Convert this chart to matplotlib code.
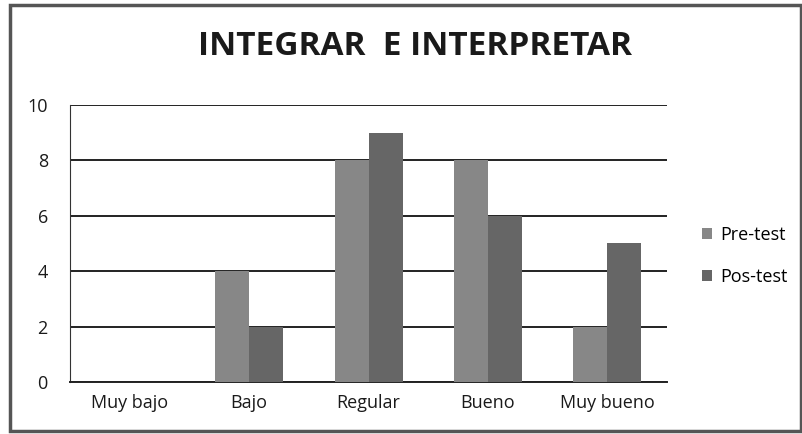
import numpy as np
import matplotlib.pyplot as plt
from matplotlib.patches import Rectangle

plt.rcParams['font.family'] = ['Open Sans', 'DejaVu Sans']

categories = ["Muy bajo", "Bajo", "Regular", "Bueno", "Muy bueno"]
pre_test = [0, 4, 8, 8, 2]
pos_test = [0, 2, 9, 6, 5]
y_ticks = [0, 2, 4, 6, 8, 10]

fig = plt.figure(figsize=(8.03, 4.34), dpi=100)
ax = fig.add_axes([0.0872, 0.12, 0.7435, 0.638])

x = np.arange(len(categories))
w = 0.285
ax.bar(x - w / 2, pre_test, w, color="#878787", label="Pre-test", zorder=3)
ax.bar(x + w / 2, pos_test, w, color="#666666", label="Pos-test", zorder=3)

ax.set_xlim(-0.5, len(categories) - 0.5)
ax.set_ylim(0, 10)
ax.set_yticks(y_ticks)
ax.set_xticks(x)
ax.set_xticklabels(categories, fontsize=13, color="#1a1a1a")
ax.tick_params(axis="y", labelsize=13, length=0, pad=16, labelcolor="#1a1a1a")
ax.tick_params(axis="x", length=0, pad=9)
ax.yaxis.grid(True, color="#222222", linewidth=1.4, zorder=0)
for s in ["right", "top"]:
    ax.spines[s].set_visible(False)
ax.spines["left"].set_color("#333333")
ax.spines["left"].set_linewidth(0.8)
ax.spines["bottom"].set_color("#222222")
ax.spines["bottom"].set_linewidth(1.4)

fig.text(0.517, 0.893, "INTEGRAR  E INTERPRETAR", ha="center", va="center",
         fontsize=24, fontweight="bold", color="#1a1a1a")

ax.legend(loc="center left", bbox_to_anchor=(1.058, 0.455), frameon=False,
          fontsize=13, handlelength=0.55, handleheight=0.55, labelspacing=1.3,
          handletextpad=0.5, borderpad=0, borderaxespad=0)

fig.patches.append(Rectangle((0.012, 0.008), 0.985, 0.98, transform=fig.transFigure,
                             fill=False, edgecolor="#555555", linewidth=2.5))

fig.savefig("out.png", dpi=100)
